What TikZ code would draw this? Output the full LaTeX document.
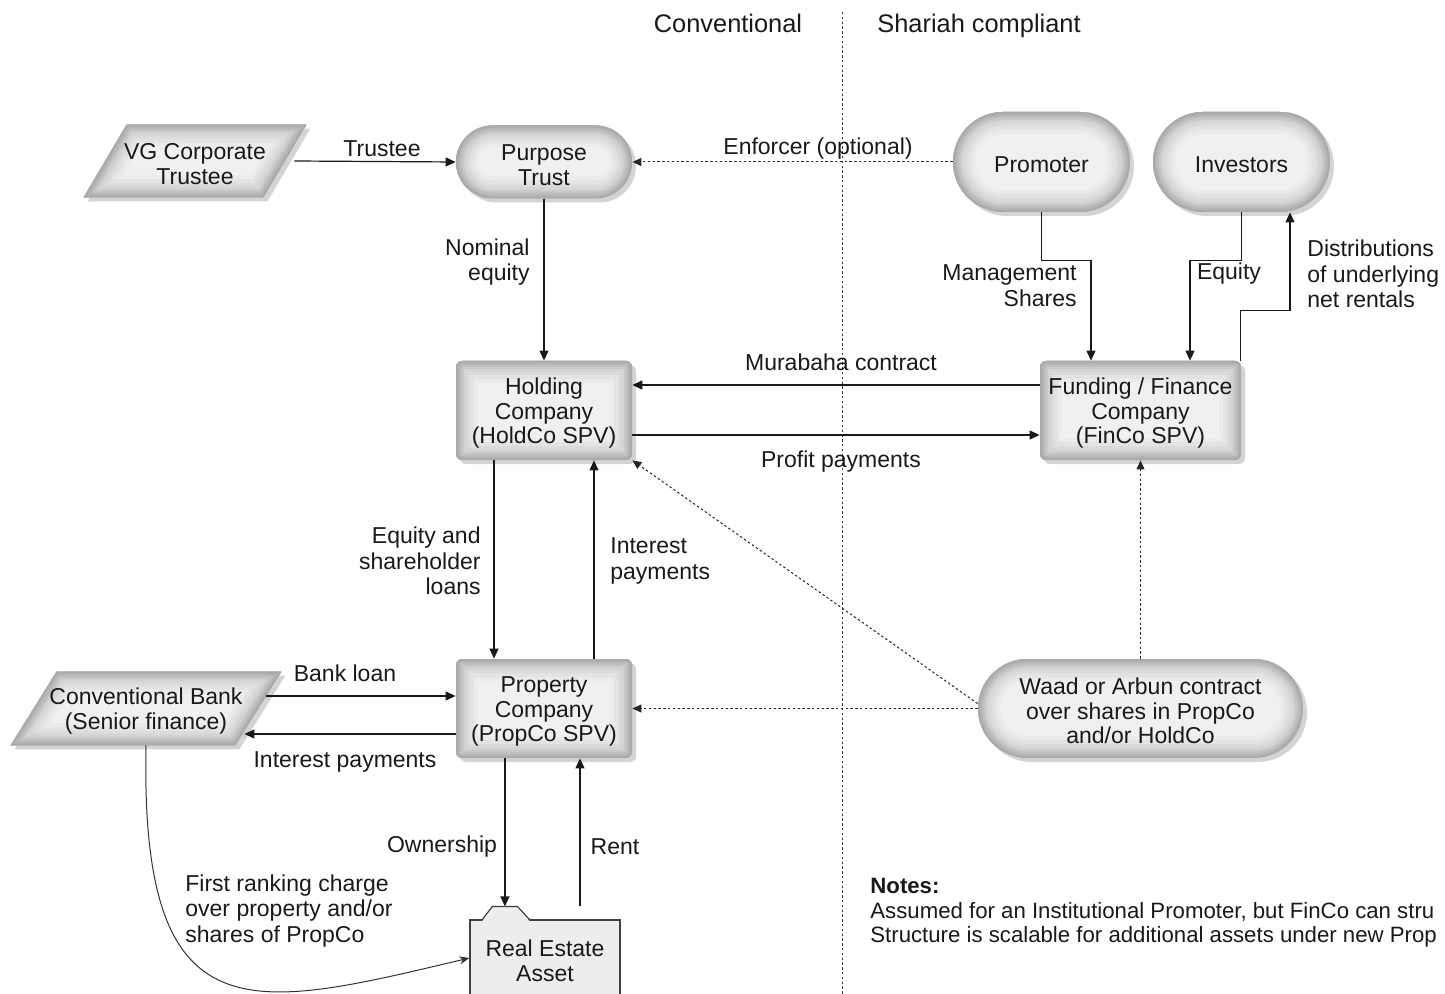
\documentclass[tikz,border=0pt]{standalone}
\usepackage{fontspec}
\setmainfont{Liberation Sans}
\usetikzlibrary{arrows.meta,shadows,calc,backgrounds}
\newcommand{\nf}{\fontsize{11.5}{12.3}\selectfont}
\newcommand{\lf}{\fontsize{11.5}{12.8}\selectfont}
\newcommand{\tst}{\rule{0pt}{11pt}}
\newcommand{\paragl}[2]{%
  \path (#1.south west) coordinate (#1-a)
        ([xshift=-#2]#1.south east) coordinate (#1-b)
        (#1.north east) coordinate (#1-c)
        ([xshift=#2]#1.north west) coordinate (#1-d);
  \fill[black,opacity=.17] ([shift={(2pt,-2pt)}]#1-a) -- ([shift={(2pt,-2pt)}]#1-b) -- ([shift={(2pt,-2pt)}]#1-c) -- ([shift={(2pt,-2pt)}]#1-d) -- cycle;
  \fill[black!6] (#1-a) -- (#1-b) -- (#1-c) -- (#1-d) -- cycle;
  \begin{scope}
    \clip (#1-a) -- (#1-b) -- (#1-c) -- (#1-d) -- cycle;
    \foreach \w/\c in {22/8,18/11,14/14,11/17,8/21,6/25,4/29,2/33}{
      \draw[black!\c, line width=\w pt, line join=round] (#1-a) -- (#1-b) -- (#1-c) -- (#1-d) -- cycle;}
  \end{scope}}
\begin{document}
\begin{tikzpicture}[x=0.5pt,y=-0.5pt,
  glow/.style={path picture={
    \foreach \w/\c in {22/8,18/11,14/14,11/17,8/21,6/25,4/29,2/33}{
      \draw[black!\c, line width=\w pt, rounded corners=#1]
        (path picture bounding box.south west) rectangle (path picture bounding box.north east);}}},
  shaded/.style={fill=black!6, text=black!90, font=\nf, align=center, inner sep=0pt,
     drop shadow={shadow xshift=2pt, shadow yshift=-2pt, fill=black, opacity=0.17}},
  sbox/.style={shaded, rectangle, rounded corners=3pt, glow=3pt},
  stad/.style={shaded, rectangle, rounded corners=#1, glow=#1},
  para/.style={rectangle, text=black!90, font=\nf, align=center, inner sep=0pt},
  lbl/.style={font=\lf, text=black!90, inner sep=0pt, align=center},
  arr/.style={draw=black!90, line width=0.6pt, -{Triangle[length=5pt,width=4.5pt]}},
  dotarr/.style={draw=black!85, line width=0.5pt, dash pattern=on 1.2pt off 1.2pt, -{Triangle[length=4.5pt,width=4pt]}},
  curvearr/.style={draw=black!80, line width=0.5pt, -{Stealth[length=5pt,width=4pt]}},
]
\useasboundingbox (0,0) rectangle (1445,994);

% headers and divider
\node[lbl, anchor=base, font=\fontsize{12.7}{14}\selectfont] (hconv) at (728,33) {Conventional};
\node[lbl, anchor=base, font=\fontsize{12.7}{14}\selectfont] (hshar) at (979,33) {Shariah compliant};
\coordinate (dtop) at (842,12);
\coordinate (dbot) at (842,996);
\draw[black!80, line width=0.5pt, dash pattern=on 1.2pt off 1.2pt] (dtop) -- (dbot);

% nodes
\node[para, minimum width=111pt, minimum height=36pt] (vg) at (195,161) {\tst VG Corporate\\Trustee};
\node[para, minimum width=135pt, minimum height=36.5pt] (bk) at (146,708.5) {\tst Conventional Bank\\(Senior finance)};
\node[stad=18.25pt, minimum width=88pt, minimum height=36.5pt] (pt) at (544,162) {\tst Purpose\\Trust};
\node[stad=25pt, minimum width=88.5pt, minimum height=50pt] (pr) at (1041.5,162) {\tst Promoter};
\node[stad=25pt, minimum width=88.5pt, minimum height=50pt] (inv) at (1241.5,162) {\tst Investors};
\node[sbox, minimum width=88pt, minimum height=49.5pt] (hc) at (544,410.5) {\tst Holding\\Company\\(HoldCo SPV)};
\node[sbox, minimum width=100.5pt, minimum height=49.5pt] (fc) at (1140.5,410.5) {\tst Funding / Finance\\Company\\(FinCo SPV)};
\node[sbox, minimum width=88pt, minimum height=49.5pt] (pc) at (544,708.5) {\tst Property\\Company\\(PropCo SPV)};
\node[stad=24.75pt, minimum width=162.5pt, minimum height=49.5pt] (wd) at (1140.5,708.5) {\tst Waad or Arbun contract\\over shares in PropCo\\and/or HoldCo};
\node[font=\nf, align=center, text=black!90, fill=black!7, draw=black!75, line width=0.6pt,
      minimum width=75pt, minimum height=38pt, inner sep=0pt] (re) at (545,958) {\tst Real Estate\\Asset};

\begin{scope}[on background layer]
  \paragl{vg}{21.5pt}
  \paragl{bk}{23pt}
\end{scope}

% tab on real estate asset
\coordinate (t1) at ($(re.north west)+(13,0)$);
\coordinate (t2) at ($(re.north west)+(23,-13)$);
\coordinate (t3) at ($(re.north west)+(48,-13)$);
\coordinate (t4) at ($(re.north west)+(60,0)$);
\coordinate (tab) at ($(t2)!0.5!(t3)$);
\coordinate (rentfoot) at ($(re.north)+(35,-13)$);
\fill[black!7] ($(t1)+(0,1.5)$) -- (t2) -- (t3) -- ($(t4)+(0,1.5)$) -- cycle;
\draw[black!75, line width=0.6pt, line join=round] (t1) -- (t2) -- (t3) -- (t4);

% connectors
\draw[arr] ([xshift=-6pt]vg.east) -- (pt.west);
\draw[dotarr] (pr.west) -- (pt.east);
\draw[arr] (pt.south) -- (hc.north);
\draw[arr] (pr.south) -- ++(0,48) -| ([xshift=-24.75pt]fc.north);
\draw[arr] (inv.south) -- ++(0,48) -| ([xshift=24.75pt]fc.north);
\draw[arr] ([xshift=-0.5pt]fc.north east) -- ++(0,-50) -| ([xshift=24.25pt]inv.south);
\draw[arr] ([yshift=12.75pt]fc.west) -- ([yshift=12.75pt]hc.east);
\draw[arr] ([yshift=-12.25pt]hc.east) -- ([yshift=-12.25pt]fc.west);
\draw[arr] ([xshift=-25pt]hc.south) -- ([xshift=-25pt]pc.north);
\draw[arr] ([xshift=25pt]pc.north) -- ([xshift=25pt]hc.south);
\draw[dotarr] ([yshift=2.5pt]wd.west) -- (hc.south east);
\draw[dotarr] (wd.west) -- (pc.east);
\draw[dotarr] (wd.north) -- (fc.south);
\draw[arr] ([xshift=-7.55pt,yshift=6.25pt]bk.east) -- ([yshift=6.25pt]pc.west);
\draw[arr] ([yshift=-12.75pt]pc.west) -- ([xshift=-18.5pt,yshift=-12.75pt]bk.east);
\draw[arr] (pc.south -| tab) -- (tab);
\draw[arr] (rentfoot) -- (rentfoot |- pc.south);
\draw[curvearr] (bk.south) .. controls (140,1040) and (250,1010) .. (re.west);

% labels
\node[lbl] (l1) at (382,149) {Trustee};
\node[lbl] (l2) at (818,149) {Enforcer (optional)};
\node[lbl, anchor=east, align=right] (l3) at (530,262) {Nominal\\equity};
\node[lbl, anchor=east, align=right] (l4) at (1077,286) {Management\\Shares};
\node[lbl] (l5) at (1229,274) {Equity};
\node[lbl, anchor=west, align=left] (l6) at (1307,274) {Distributions\\of underlying\\net rentals};
\node[lbl] (l7) at (841,362) {Murabaha contract};
\node[lbl] (l8) at (841,462) {Profit payments};
\node[lbl, anchor=east, align=right] (l9) at (481,561) {Equity and\\shareholder\\loans};
\node[lbl, anchor=west, align=left] (l10) at (610,561) {Interest\\payments};
\node[lbl] (l11) at (345,673) {Bank loan};
\node[lbl] (l12) at (345,762) {Interest payments};
\node[lbl] (l13) at (442,847) {Ownership};
\node[lbl] (l14) at (615,847) {Rent};
\node[lbl, anchor=west, align=left] (l15) at (185,911) {First ranking charge\\over property and/or\\shares of PropCo};
\node[lbl, anchor=north west, align=left, font=\fontsize{11.1}{12.25}\selectfont] (notes) at (870,878)
  {\textbf{Notes:}\\Assumed for an Institutional Promoter, but FinCo can stru\\Structure is scalable for additional assets under new Prop};
\end{tikzpicture}
\end{document}
